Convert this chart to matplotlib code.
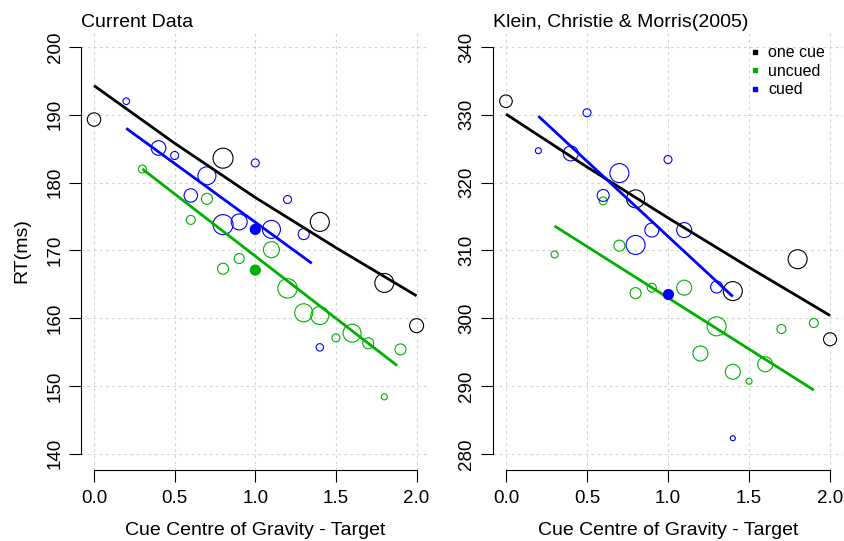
import matplotlib.pyplot as plt
from matplotlib.lines import Line2D

plt.rcParams['font.family'] = ['Liberation Sans', 'DejaVu Sans']

# ---- Current Data (left panel) ----
cur_one_x = [0.0, 0.8, 1.4, 1.8, 2.0]
cur_one_rt = [189.3, 183.6, 174.2, 165.2, 158.9]
cur_one_w = [6.7, 10, 9.5, 9.5, 7]

cur_unc_x = [0.3, 0.6, 0.7, 0.8, 0.9, 1.1, 1.2, 1.3, 1.4, 1.5, 1.6, 1.7, 1.8, 1.9]
cur_unc_rt = [182.0, 174.5, 177.6, 167.3, 168.8, 170.1, 164.4, 160.8, 160.4,
              157.1, 157.8, 156.3, 148.4, 155.4]
cur_unc_w = [4, 4.5, 5.5, 5.5, 5, 8, 9.7, 9, 9, 4, 9, 5.5, 3, 5.5]

cur_cue_x = [0.2, 0.4, 0.5, 0.6, 0.7, 0.8, 0.9, 1.0, 1.1, 1.2, 1.3, 1.4]
cur_cue_rt = [192.0, 185.1, 184.0, 178.1, 181.0, 173.8, 174.2, 182.9, 173.1,
              177.5, 172.4, 155.7]
cur_cue_w = [3.3, 7.3, 4, 6.7, 9, 10, 8, 4, 9, 4, 5.5, 3.7]

cur_mean_x = [1.0, 1.0]
cur_mean_rt = [167.1, 173.1]          # uncued, cued

cur_fit_one_x = [0.0, 0.5, 1.0, 1.5, 2.0]
cur_fit_one = [194.3, 185.8, 177.8, 170.4, 163.3]
cur_fit_unc_x = [0.3, 1.88]
cur_fit_unc = [182.0, 153.0]
cur_fit_cue_x = [0.2, 1.35]
cur_fit_cue = [188.0, 168.1]

# ---- Klein, Christie & Morris (2005) (right panel) ----
kcm_one_x = [0.0, 0.8, 1.4, 1.8, 2.0]
kcm_one_rt = [332.0, 317.6, 304.0, 308.7, 296.9]
kcm_one_w = [6.3, 9, 9.5, 9.5, 6.5]

kcm_unc_x = [0.3, 0.6, 0.7, 0.8, 0.9, 1.1, 1.2, 1.3, 1.4, 1.5, 1.6, 1.7, 1.9]
kcm_unc_rt = [309.4, 317.3, 310.7, 303.7, 304.5, 304.5, 294.8, 298.8, 292.1,
              290.7, 293.2, 298.4, 299.3]
kcm_unc_w = [3.5, 4, 5.5, 5.5, 4.5, 7.5, 7.5, 9.5, 7.5, 3, 7.5, 4.5, 4.5]

kcm_cue_x = [0.2, 0.4, 0.5, 0.6, 0.7, 0.8, 0.9, 1.0, 1.1, 1.3, 1.4]
kcm_cue_rt = [324.7, 324.3, 330.3, 318.1, 321.4, 310.8, 313.0, 323.4, 313.0,
              304.6, 282.3]
kcm_cue_w = [3, 7.5, 4, 6, 9.5, 9.5, 7, 4, 7.5, 6, 2.5]

kcm_mean_x = [1.0]
kcm_mean_rt = [303.6]                 # cued

kcm_fit_one_x = [0.0, 0.5, 1.0, 1.5, 2.0]
kcm_fit_one = [330.1, 322.3, 314.8, 307.5, 300.4]
kcm_fit_unc_x = [0.3, 1.9]
kcm_fit_unc = [313.6, 289.4]
kcm_fit_cue_x = [0.2, 1.4]
kcm_fit_cue = [329.8, 303.2]

x_ticks = [0.0, 0.5, 1.0, 1.5, 2.0]
cur_y_ticks = [140, 150, 160, 170, 180, 190, 200]
kcm_y_ticks = [280, 290, 300, 310, 320, 330, 340]

BLACK = 'black'
GREEN = '#00b000'
BLUE = '#0000ff'


def area(w):
    # circle radius (px) -> scatter area (pt^2)
    return [(2 * v * 0.72) ** 2 for v in w]


def panel(ax, title, yticks, one, unc, cue, mean, fits):
    ax.set_xlim(-0.08, 2.08)
    ax.set_ylim(yticks[0] - 2.4, yticks[-1] + 2.4)
    ax.set_xticks(x_ticks)
    ax.set_xticklabels(['0.0', '0.5', '1.0', '1.5', '2.0'])
    ax.set_yticks(yticks)
    ax.grid(True, color='#d3d3d3', linestyle=(0, (2.5, 3)), linewidth=0.8)
    ax.set_axisbelow(True)
    for s in ['top', 'right']:
        ax.spines[s].set_visible(False)
    ax.spines['left'].set_bounds(yticks[0], yticks[-1])
    ax.spines['bottom'].set_bounds(0, 2)
    for s in ['left', 'bottom']:
        ax.spines[s].set_linewidth(0.8)
    ax.tick_params(length=8.6, width=0.8, labelsize=13.5)
    ax.tick_params(axis='x', pad=6)
    ax.tick_params(axis='y', pad=4)
    for lab in ax.get_yticklabels():
        lab.set_rotation(90)
        lab.set_va('center')

    for (xs, ys, ws), c in zip([one, unc, cue], [BLACK, GREEN, BLUE]):
        ax.scatter(xs, ys, s=area(ws), facecolors='none', edgecolors=c,
                   linewidths=0.8, zorder=3)
    for (fx, fy), c in zip(fits, [BLACK, GREEN, BLUE]):
        ax.plot(fx, fy, color=c, lw=2.0, solid_capstyle='butt', zorder=4)
    mx, my, mc = mean
    ax.scatter(mx, my, s=(2 * 5.6 * 0.72) ** 2, color=mc, zorder=5,
               linewidths=0)

    ax.set_title(title, loc='left', fontsize=14, pad=2.5)
    ax.set_xlabel('Cue Centre of Gravity - Target', fontsize=14)
    ax.xaxis.set_label_coords(0.5, -0.118)


fig = plt.figure(figsize=(8.44, 5.41), dpi=100)
ax1 = fig.add_axes([81.1 / 844, 70.9 / 541, 348.4 / 844, 439.4 / 541])
ax2 = fig.add_axes([493 / 844, 70.9 / 541, 350 / 844, 439.4 / 541])

panel(ax1, 'Current Data', cur_y_ticks,
      (cur_one_x, cur_one_rt, cur_one_w),
      (cur_unc_x, cur_unc_rt, cur_unc_w),
      (cur_cue_x, cur_cue_rt, cur_cue_w),
      (cur_mean_x, cur_mean_rt, [GREEN, BLUE]),
      [(cur_fit_one_x, cur_fit_one), (cur_fit_unc_x, cur_fit_unc),
       (cur_fit_cue_x, cur_fit_cue)])
panel(ax2, 'Klein, Christie & Morris(2005)', kcm_y_ticks,
      (kcm_one_x, kcm_one_rt, kcm_one_w),
      (kcm_unc_x, kcm_unc_rt, kcm_unc_w),
      (kcm_cue_x, kcm_cue_rt, kcm_cue_w),
      (kcm_mean_x, kcm_mean_rt, [BLUE]),
      [(kcm_fit_one_x, kcm_fit_one), (kcm_fit_unc_x, kcm_fit_unc),
       (kcm_fit_cue_x, kcm_fit_cue)])

ax1.set_ylabel('RT(ms)', fontsize=14)
ax1.yaxis.set_label_coords(-0.147, 0.5)

handles = [Line2D([], [], ls='none', marker='s', markersize=3.4, color=c)
           for c in [BLACK, GREEN, BLUE]]
ax2.legend(handles, ['one cue', 'uncued', 'cued'], loc='upper left',
           bbox_to_anchor=(0.731, 0.967), frameon=False, fontsize=11.5,
           handlelength=0.8, handletextpad=0.4, labelspacing=0.22,
           borderpad=0, borderaxespad=0)

fig.savefig('out.png', dpi=100)
